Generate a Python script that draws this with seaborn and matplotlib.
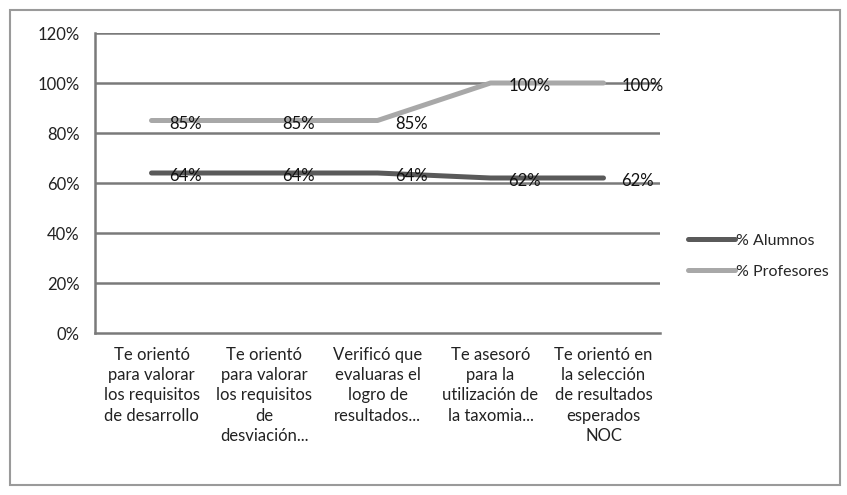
import numpy as np
import matplotlib
matplotlib.use("Agg")
import matplotlib.pyplot as plt
import pandas as pd
import seaborn as sns
from matplotlib.patches import Rectangle

# chart data
categories = [
    "Te orientó\npara valorar\nlos requisitos\nde desarrollo",
    "Te orientó\npara valorar\nlos requisitos\nde\ndesviación...",
    "Verificó que\nevaluaras el\nlogro de\nresultados...",
    "Te asesoró\npara la\nutilización de\nla taxomia...",
    "Te orientó en\nla selección\nde resultados\nesperados\nNOC",
]
alumnos = [64, 64, 64, 62, 62]
profesores = [85, 85, 85, 100, 100]
series_names = ["% Alumnos", "% Profesores"]
series_colors = ["#5a5a5a", "#a8a8a8"]
y_ticks = [0, 20, 40, 60, 80, 100, 120]

sns.set_style("white")
plt.rcParams['font.family'] = ['Lato', 'DejaVu Sans']

df = pd.DataFrame({
    'pos': list(range(len(categories))) * 2,
    'valor': alumnos + profesores,
    'serie': [series_names[0]] * len(alumnos) + [series_names[1]] * len(profesores),
})

fig = plt.figure(figsize=(8.47, 4.95), dpi=100)
ax = fig.add_axes([95 / 847, 1 - 333 / 495, 565 / 847, 300 / 495])

# outer chart border
fig.patches.append(Rectangle((10 / 847, 1 - 485 / 495), 830 / 847, 475 / 495,
                             transform=fig.transFigure, fill=False,
                             edgecolor='#9a9a9a', linewidth=1.5))

for y in y_ticks[1:]:
    ax.axhline(y, color='#7a7a7a', linewidth=1.8, zorder=0)

sns.lineplot(data=df, x='pos', y='valor', hue='serie', palette=series_colors,
             hue_order=series_names, linewidth=3.6, ax=ax, legend=False, zorder=3)

# data labels
for vals in [alumnos, profesores]:
    for i, v in enumerate(vals):
        ax.annotate(f"{v}%", (i, v), xytext=(13, -2.5), textcoords='offset points',
                    ha='left', va='center', fontsize=12, color='#111111', zorder=5)

ax.set_xlim(-0.5, len(categories) - 0.5)
ax.set_ylim(0, 120)
ax.set_yticks(y_ticks)
ax.set_yticklabels([f"{t}%" for t in y_ticks], fontsize=12, color='#222222')
ax.set_xticks(np.arange(len(categories) + 1) - 0.5)
ax.set_xticklabels([])
ax.set_xticks(np.arange(len(categories)), minor=True)
ax.set_xticklabels(categories, minor=True, fontsize=12, linespacing=1.33, va='top',
                   color='#222222')
ax.tick_params(axis='x', which='major', length=5, width=1.5, color='#7a7a7a', direction='out')
ax.tick_params(axis='x', which='minor', length=0, pad=10)
ax.tick_params(axis='y', length=5, width=1.5, color='#7a7a7a', direction='out', pad=6)
ax.set_xlabel('')
ax.set_ylabel('')

for side in ['top', 'right']:
    ax.spines[side].set_visible(False)
for side in ['left', 'bottom']:
    ax.spines[side].set_color('#7a7a7a')
    ax.spines[side].set_linewidth(1.8)

handles = [plt.Line2D([], [], color=c, linewidth=3.6) for c in series_colors]
fig.legend(handles, series_names, loc='center left', bbox_to_anchor=(674 / 847, 1 - 256 / 495),
           frameon=False, fontsize=11.5, handlelength=2.9, handletextpad=0.1, labelspacing=1.05)

fig.savefig("out.png", dpi=100)
